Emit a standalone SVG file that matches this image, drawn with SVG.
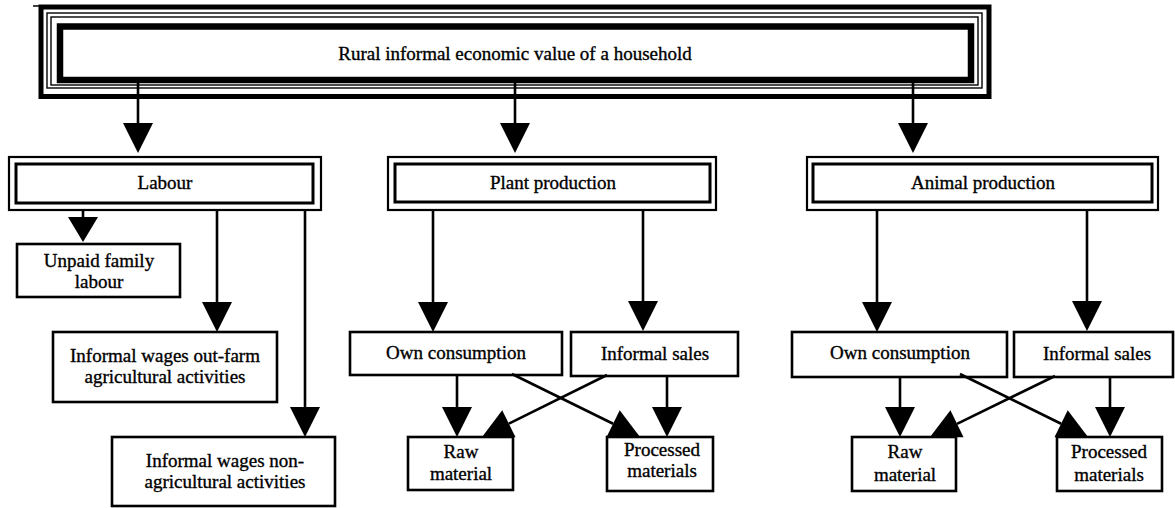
<svg xmlns="http://www.w3.org/2000/svg" width="1175" height="508" viewBox="0 0 1175 508">
<style>
  .bg { fill: #ffffff; }
  .box { fill: #ffffff; stroke: #000000; stroke-width: 2.6; }
  .outer { fill: #ffffff; stroke: #000000; stroke-width: 2.2; }
  .inner { fill: none; stroke: #000000; stroke-width: 3; }
  .thin { fill: none; stroke: #000000; stroke-width: 1.4; }
  .conn { fill: none; stroke: #000000; stroke-width: 2.6; marker-end: url(#ah); }
  .conn2 { fill: none; stroke: #000000; stroke-width: 2.6; marker-end: url(#ah2); }
  text { font-family: "Liberation Serif", "Times New Roman", serif; font-size: 19px; fill: #000000; stroke: #000000; stroke-width: 0.35; text-anchor: middle; }
</style>
<defs>
  <marker id="ah" markerUnits="userSpaceOnUse" markerWidth="30" markerHeight="30" viewBox="0 0 30 30" refX="0" refY="15" orient="auto" overflow="visible">
    <path d="M0,0 L30,15 L0,30 Z" fill="#000000"/>
  </marker>
  <marker id="ah2" markerUnits="userSpaceOnUse" markerWidth="25" markerHeight="30" viewBox="0 0 25 30" refX="0" refY="15" orient="auto" overflow="visible">
    <path d="M0,0 L25,15 L0,30 Z" fill="#000000"/>
  </marker>
</defs>
<rect class="bg" x="0" y="0" width="1175" height="508"/>

<g id="top">
  <line x1="33" y1="6" x2="41" y2="6" stroke="#000" stroke-width="1.5"/>
  <rect x="41" y="7" width="948" height="89.5" fill="#fff" stroke="#000" stroke-width="5"/>
  <rect class="thin" x="47" y="13" width="935" height="75"/>
  <rect class="thin" x="51" y="17" width="927" height="68"/>
  <rect x="60" y="26.5" width="911" height="53.5" fill="none" stroke="#000" stroke-width="6.5"/>
  <text x="515" y="60">Rural informal economic value of a household</text>
</g>

<g id="labour">
  <rect class="outer" x="9" y="157" width="312" height="53"/>
  <rect class="inner" x="16" y="164" width="297" height="39"/>
  <text x="165" y="189">Labour</text>
</g>
<g id="plant">
  <rect class="outer" x="388" y="157" width="328" height="53"/>
  <rect class="inner" x="395" y="164" width="315" height="38"/>
  <text x="553" y="189">Plant production</text>
</g>
<g id="animal">
  <rect class="outer" x="807" y="157" width="351" height="53"/>
  <rect class="inner" x="813" y="164" width="339" height="38"/>
  <text x="983" y="189">Animal production</text>
</g>

<g id="unpaid">
  <rect class="box" x="17" y="244" width="163" height="53"/>
  <text x="99" y="267">Unpaid family</text>
  <text x="99" y="288">labour</text>
</g>
<g id="outfarm">
  <rect class="box" x="53" y="332" width="224" height="70"/>
  <text x="165" y="362">Informal wages out-farm</text>
  <text x="165" y="383">agricultural activities</text>
</g>
<g id="nonagri">
  <rect class="box" x="112" y="437" width="223" height="69"/>
  <text x="225" y="467">Informal wages non-</text>
  <text x="225" y="488">agricultural activities</text>
</g>

<g id="plant-own">
  <rect class="box" x="350" y="332" width="212" height="43"/>
  <text x="456" y="359">Own consumption</text>
</g>
<g id="plant-sales">
  <rect class="box" x="571" y="332" width="167" height="44"/>
  <text x="655" y="360">Informal sales</text>
</g>
<g id="plant-raw">
  <rect class="box" x="408" y="437" width="105" height="53"/>
  <text x="461" y="458">Raw</text>
  <text x="461" y="480">material</text>
</g>
<g id="plant-proc">
  <rect class="box" x="607" y="437" width="106" height="54"/>
  <text x="662" y="456">Processed</text>
  <text x="662" y="477">materials</text>
</g>

<g id="animal-own">
  <rect class="box" x="792" y="332" width="215" height="45"/>
  <text x="900" y="359">Own consumption</text>
</g>
<g id="animal-sales">
  <rect class="box" x="1014" y="332" width="159" height="45"/>
  <text x="1097" y="360">Informal sales</text>
</g>
<g id="animal-raw">
  <rect class="box" x="852" y="437" width="104" height="54"/>
  <text x="905" y="458">Raw</text>
  <text x="905" y="481">material</text>
</g>
<g id="animal-proc">
  <rect class="box" x="1057" y="437" width="105" height="54"/>
  <text x="1109" y="458">Processed</text>
  <text x="1109" y="481">materials</text>
</g>

<g id="connectors">
  <path class="conn" d="M138,83 L138,123"/>
  <path class="conn" d="M515,83 L515,123"/>
  <path class="conn" d="M913,83 L913,123"/>

  <path class="conn2" d="M83,210 L83,217"/>
  <path class="conn" d="M217,210 L217,302"/>
  <path class="conn" d="M305,210 L305,407"/>

  <path class="conn" d="M433,210 L433,302"/>
  <path class="conn" d="M643,210 L643,301"/>
  <path class="conn" d="M877,210 L877,302"/>
  <path class="conn" d="M1087,210 L1087,301"/>

  <path class="conn" d="M457,375 L457,407"/>
  <path class="conn" d="M667,376 L667,407"/>
  <path class="conn" d="M512,374 L613.1,423.75"/>
  <path class="conn" d="M607,375 L508.9,423.7"/>

  <path class="conn" d="M900,377 L900,407"/>
  <path class="conn" d="M1110,377 L1110,407"/>
  <path class="conn" d="M960,374 L1061.1,423.75"/>
  <path class="conn" d="M1055,376 L957,423.8"/>
</g>
</svg>
